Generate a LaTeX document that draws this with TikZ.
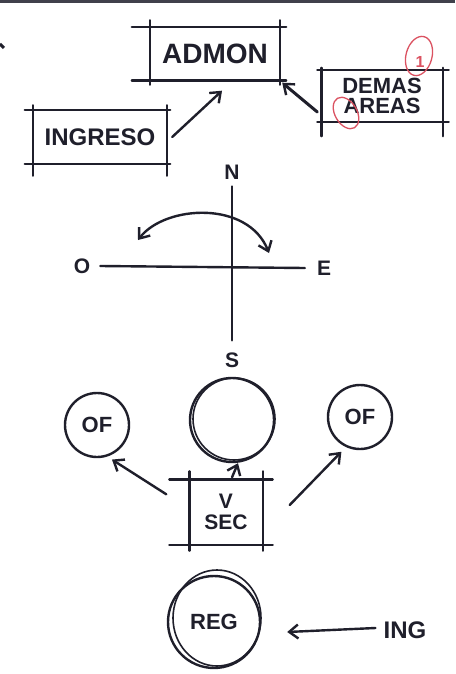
\documentclass[tikz,border=0pt]{standalone}
\usepackage{fontspec}
\setmainfont{Liberation Sans}
\usetikzlibrary{arrows.meta}
\definecolor{ink}{rgb}{0.12,0.12,0.17}
\definecolor{redink}{rgb}{0.86,0.32,0.38}
\tikzset{
  pen/.style={draw=ink,line width=2.4pt,line cap=round,line join=round},
  arr/.style={pen,-{Straight Barb[length=9pt,width=14pt,line width=2.4pt]}},
  dblarr/.style={pen,{Straight Barb[length=9pt,width=14pt,line width=2.4pt]}-{Straight Barb[length=9pt,width=14pt,line width=2.4pt]}},
  lbl/.style={text=ink,font=\bfseries\fontsize{#1}{#1}\selectfont,inner sep=2pt},
  boxn/.style={rectangle,inner sep=0pt,text=ink,align=center},
  circn/.style={circle,pen,inner sep=0pt,text=ink,font=\bfseries\fontsize{22}{22}\selectfont}
}
\newcommand\skbox[5]{% name, left ext, right ext, top ext, bottom ext
  \draw[pen] ([xshift=-#2]#1.north west) -- ([xshift=#3]#1.north east);
  \draw[pen] ([xshift=-#2]#1.south west) -- ([xshift=#3]#1.south east);
  \draw[pen] ([yshift=#4]#1.north west) -- ([yshift=-#5]#1.south west);
  \draw[pen] ([yshift=#4]#1.north east) -- ([yshift=-#5]#1.south east);
}
\begin{document}
\begin{tikzpicture}[x=1pt,y=-1pt]
\useasboundingbox[fill=white] (0,0) rectangle (455,674);
% top border line of the scanned sheet
\draw[ink!85,line width=3pt] (0,2) -- (455,2);
\draw[ink,line width=3pt] (0,44) -- (4,48);

% --- top boxes ---
\node[boxn,minimum width=130pt,minimum height=53pt,lbl=28] (admon) at (215,54) {ADMON};
\skbox{admon}{18pt}{6pt}{7pt}{4pt}
\node[boxn,minimum width=134pt,minimum height=53pt,lbl=24] (ingreso) at (100,137) {INGRESO};
\skbox{ingreso}{8pt}{3pt}{5pt}{12pt}
\node[boxn,minimum width=121pt,minimum height=52pt,lbl=22] (demas) at (382,96) {\fontsize{22}{20}\selectfont DEMAS\\[-2pt]AREAS};
\skbox{demas}{4pt}{6pt}{2pt}{14pt}

% red review marks
\draw[redink,line width=1.3pt,rotate around={-15:(419,56)}] (419,56) ellipse [x radius=13pt, y radius=20pt];
\node[text=redink,font=\bfseries\fontsize{16}{16}\selectfont,inner sep=0pt] (one) at (420,62) {1};
\draw[redink,line width=1.3pt,rotate around={30:(346,113)}] (346,113) ellipse [x radius=11pt, y radius=17pt];

% top arrows
\draw[arr] ([xshift=5pt,yshift=0pt]ingreso.east) -- ([xshift=7pt,yshift=-10pt]admon.south);
\draw[arr,line width=3pt] ([xshift=-4pt,yshift=-16pt]demas.west) -- ([xshift=2pt,yshift=-2pt]admon.south east);

% --- compass ---
\node[lbl=21] (n) at (232,172) {N};
\node[lbl=21] (s) at (232,360) {S};
\node[lbl=21] (o) at (82,266) {O};
\node[lbl=21] (e) at (324,268) {E};
\draw[pen] ([yshift=-5pt]n.south) -- ([yshift=10pt]s.north);
\draw[pen] ([xshift=8pt]o.east) -- ([xshift=-10pt]e.west);
\coordinate (arcL) at (138,240);
\coordinate (arcR) at (269,253);
\draw[dblarr] (arcL) .. controls (165,205) and (248,200) .. (arcR);

% --- lower cluster ---
\node[circn,minimum size=64pt] (ofL) at (97,425) {OF};
\node[circn,minimum size=64pt] (ofR) at (360,417) {OF};
\node[circn,minimum size=84pt] (cen) at (232,420) {};
\draw[pen,line width=1.6pt] (234,419) circle[radius=41pt];

\node[boxn,minimum width=73pt,minimum height=65pt,lbl=21] (vsec) at (226,512) {\fontsize{21}{27}\selectfont V\\SEC};
\skbox{vsec}{20pt}{10pt}{8pt}{6pt}

\draw[arr] ([xshift=-23pt,yshift=-15pt]vsec.north west) -- ([shift={(2pt,-4pt)}]ofL.293);
\draw[arr] ([xshift=6pt,yshift=2pt]vsec.north) -- ([xshift=6pt]cen.south);
\draw[arr] ([xshift=27pt,yshift=7pt]vsec.east) -- ([shift={(-2pt,-6pt)}]ofR.240);

\node[circn,minimum size=92pt,font=\bfseries\fontsize{22}{22}\selectfont] (reg) at (214,622) {REG};
\draw[pen,line width=1.6pt] (217,618) ellipse[x radius=44pt,y radius=48pt];
\node[lbl=24] (ing) at (405,630) {ING};
\draw[arr] ([xshift=-6pt,yshift=2pt]ing.west) -- ([xshift=26pt,yshift=-10pt]reg.east);
\end{tikzpicture}
\end{document}
